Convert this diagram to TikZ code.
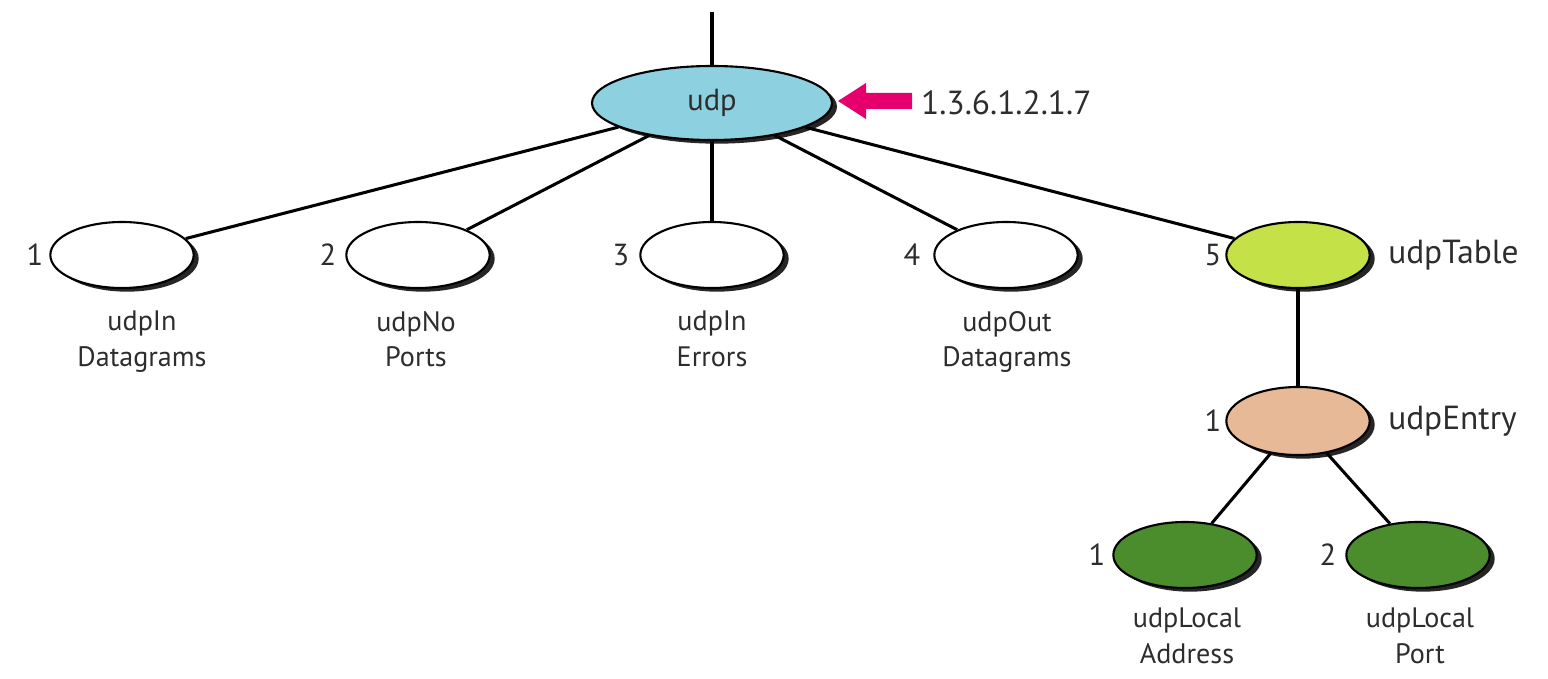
\documentclass[tikz,border=0pt]{standalone}
\usepackage{fontspec}
\setmainfont{PT Sans}
\usetikzlibrary{shapes.geometric,shadows}
\definecolor{udpblue}{RGB}{141,208,224}
\definecolor{tablegreen}{RGB}{196,226,72}
\definecolor{entrypeach}{RGB}{232,185,150}
\definecolor{leafgreen}{RGB}{75,140,45}
\definecolor{oidpink}{RGB}{230,0,110}
\definecolor{txt}{RGB}{45,45,45}
\tikzset{
  obj/.style={ellipse, draw=black, line width=1.8pt, minimum width=4.3cm, minimum height=1.98cm, inner sep=0pt,
    drop shadow={shadow xshift=0.15cm, shadow yshift=-0.11cm, fill=black!85, opacity=1}},
  conn/.style={line width=2.6pt, black},
  lbl/.style={text=txt, font=\fontsize{26}{30}\selectfont, inner sep=0pt},
  side/.style={lbl, font=\fontsize{28.5}{30}\selectfont, anchor=west},
  sub/.style={lbl, font=\fontsize{24}{30}\selectfont, align=center, anchor=north},
}
\begin{document}
\begin{tikzpicture}[x=0.03cm, y=-0.03cm]
\useasboundingbox (0,0) rectangle (1548,679);
% nodes
\node[obj, fill=udpblue, minimum width=7.2cm, minimum height=2.22cm] (udp) at (712,103) {\fontsize{26}{30}\selectfont\color{txt}udp};
\node[obj, fill=white] (c1) at (122,255) {};
\node[obj, fill=white] (c2) at (418,255) {};
\node[obj, fill=white] (c3) at (712,255) {};
\node[obj, fill=white] (c4) at (1006,255) {};
\node[obj, fill=tablegreen] (c5) at (1298,255) {};
\node[obj, fill=entrypeach, minimum height=2.04cm] (entry) at (1298,421) {};
\node[obj, fill=leafgreen] (la) at (1185,555) {};
\node[obj, fill=leafgreen] (lp) at (1418,555) {};
% numbers
\node[lbl] (n1) at (35,255) {1};
\node[lbl] (n2) at (328,255) {2};
\node[lbl] (n3) at (621,255) {3};
\node[lbl] (n4) at (912,255) {4};
\node[lbl] (n5) at (1213,255) {5};
\node[lbl] (ne) at (1213,421) {1};
\node[lbl] (nla) at (1097,555) {1};
\node[lbl] (nlp) at (1328,555) {2};
% names
\node[side] (oid) at (921,103) {1.3.6.1.2.1.7};
\node[side] (tname) at (1388,255) {udpTable};
\node[side] (ename) at (1388,421) {udpEntry};
\node[sub] (s1) at (142,311) {udpIn\\Datagrams};
\node[sub] (s2) at (416,311) {udpNo\\Ports};
\node[sub] (s3) at (712,311) {udpIn\\Errors};
\node[sub] (s4) at (1007,311) {udpOut\\Datagrams};
\node[sub] (s5) at (1187,608) {udpLocal\\Address};
\node[sub] (s6) at (1420,608) {udpLocal\\Port};
% connectors
\coordinate (top) at (712,12);
\draw[conn] (top) -- (udp);
\draw[conn] (udp) -- (c1);
\draw[conn] (udp) -- (c2);
\draw[conn] (udp) -- (c3);
\draw[conn] (udp) -- (c4);
\draw[conn] (udp) -- (c5);
\draw[conn] (c5) -- (entry);
\draw[conn] (entry) -- (la);
\draw[conn] (entry) -- (lp);
% OID pointer arrow
\coordinate (tip) at (838,101);
\fill[oidpink] (tip) -- ++(28,-18) -- ++(0,10) -- ++(46,0) -- ++(0,16) -- ++(-46,0) -- ++(0,10) -- cycle;
\end{tikzpicture}
\end{document}
